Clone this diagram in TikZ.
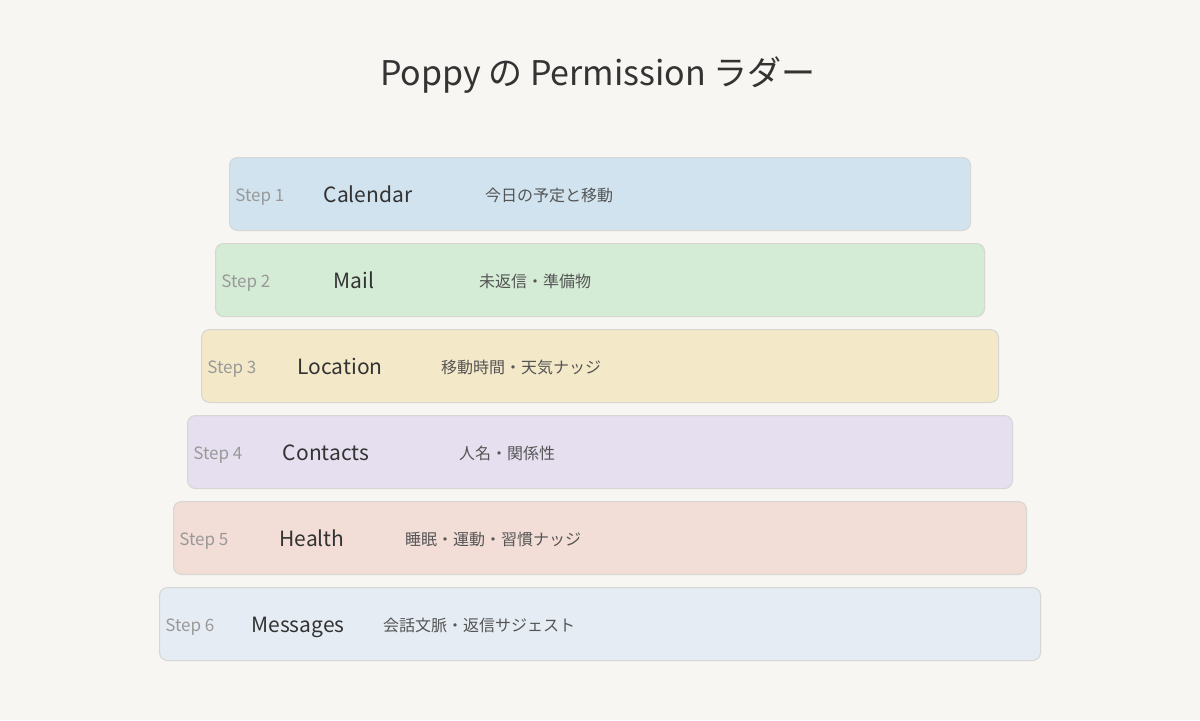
\documentclass[tikz,border=0pt]{standalone}
\usepackage{fontspec}
\setmainfont{Noto Sans CJK JP}
\definecolor{bg}{HTML}{F7F6F2}
\definecolor{edge}{HTML}{D6D6D2}
\definecolor{cA}{HTML}{D0E3EE}
\definecolor{cB}{HTML}{D4EBD5}
\definecolor{cC}{HTML}{F3E8C8}
\definecolor{cD}{HTML}{E6DFEF}
\definecolor{cE}{HTML}{F3DDD7}
\definecolor{cF}{HTML}{E5ECF4}
\definecolor{tdark}{HTML}{333333}
\definecolor{tmid}{HTML}{555555}
\definecolor{tlight}{HTML}{999999}
\tikzset{
  rung/.style={draw=edge, line width=0.5pt, rounded corners=4pt, inner sep=0pt, minimum height=36.5pt},
  stepnum/.style={anchor=west, text=tlight, font=\fontsize{8.5pt}{10pt}\selectfont, inner sep=0pt, text height=0.72em, text depth=0pt},
  appname/.style={anchor=center, text=tdark, font=\fontsize{10.5pt}{12pt}\selectfont, inner sep=0pt, text height=0.72em, text depth=0pt},
  desc/.style={anchor=center, text=tmid, font=\fontsize{8pt}{10pt}\selectfont, inner sep=0pt, text height=0.76em, text depth=0pt},
  ttl/.style={text=tdark, font=\fontsize{17pt}{20pt}\selectfont, inner sep=0pt, text height=0.74em, text depth=0pt}
}
\begin{document}
\begin{tikzpicture}[x=0.5pt, y=-0.5pt]
\fill[bg] (0,0) rectangle (1200,720);
\useasboundingbox (0,0) rectangle (1200,720);
\node[ttl] (title) at (598,78) {Poppy の Permission ラダー};
% rungs
\foreach \i/\l/\c/\n/\d in {1/229/cA/Calendar/今日の予定と移動, 2/215/cB/Mail/未返信・準備物, 3/201/cC/Location/移動時間・天気ナッジ, 4/187/cD/Contacts/人名・関係性, 5/173/cE/Health/睡眠・運動・習慣ナッジ, 6/159/cF/Messages/会話文脈・返信サジェスト}{
  \pgfmathsetmacro{\yc}{194+86*(\i-1)}
  \pgfmathsetmacro{\w}{1200-2*\l-1}
  \node[rung, fill=\c, minimum width=\w*0.5pt] (r\i) at (600,\yc) {};
  \node[stepnum] (s\i) at (\l+6,\yc) {Step \i};
  \node[appname] (a\i) at (\l+139,\yc+1.5) {\n};
  \node[desc] (d\i) at (\l+320,\yc) {\d};
}
\end{tikzpicture}
\end{document}
